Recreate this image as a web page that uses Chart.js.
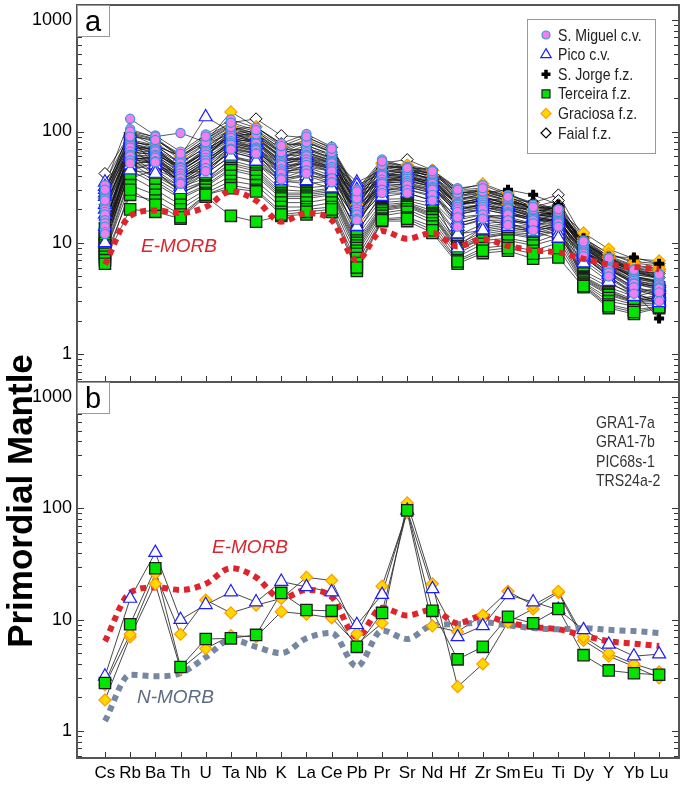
<!DOCTYPE html>
<html>
<head>
<meta charset="utf-8">
<script src="https://cdn.jsdelivr.net/npm/chart.js@4.4.1/dist/chart.umd.min.js"></script>
<style>
  body { margin: 0; background: #fff; width: 685px; height: 786px; position: relative; overflow: hidden; }
  canvas { position: absolute; left: 0; }
  #ca { top: 0; }
  #cb { top: 380px; }
  #ytitle {
    position: absolute; left: -180px; top: 481px; width: 400px; height: 40px; line-height: 40px;
    text-align: center; font: bold 35px 'Liberation Sans', Arial, sans-serif; color: #000;
    transform: rotate(-90deg); white-space: nowrap;
  }
</style>
</head>
<body>
<canvas id="ca" width="685" height="384"></canvas>
<canvas id="cb" width="685" height="406"></canvas>
<div id="ytitle">Primordial Mantle</div>
<script>
const elements = ['Cs','Rb','Ba','Th','U','Ta','Nb','K','La','Ce','Pb','Pr','Sr','Nd','Hf','Zr','Sm','Eu','Ti','Dy','Y','Yb','Lu']
const decadeTicks = [1, 10, 100, 1000]

// panel a: one row per sample, values in element order
const sMiguel = [
  [33, 130, 92, 66, 94, 128, 108, 78, 95, 73, 30, 56, 48, 45, 31, 33, 27, 22, 20, 10.5, 7.4, 5.8, 5.3],
  [28, 105, 88, 60, 85, 115, 100, 70, 85, 68, 28, 52, 46, 43, 29, 30, 26, 21, 20, 10.2, 7.2, 5.6, 5.1],
  [26, 98, 86, 58, 82, 112, 96, 68, 82, 66, 27, 50, 46, 42, 28, 29, 25, 20.5, 19.5, 10, 7.1, 5.5, 5.0],
  [25, 95, 80, 56, 78, 105, 92, 63, 75, 62, 26, 48, 44, 40, 27, 28, 24, 20, 19, 9.8, 7.0, 5.4, 4.9],
  [22, 85, 75, 52, 72, 100, 88, 58, 70, 58, 25, 45, 42, 38, 25, 26, 23, 19, 18, 9.5, 6.8, 5.2, 4.8],
  [20, 78, 70, 48, 68, 95, 82, 54, 65, 55, 23, 42, 40, 36, 23, 25, 21, 18, 18, 9.2, 6.5, 5.0, 4.6],
  [19, 75, 68, 47, 65, 92, 80, 52, 62, 53, 22.5, 41, 39, 35, 22.5, 24, 20.5, 17.5, 17.5, 9.1, 6.4, 4.9, 4.5],
  [18, 72, 66, 45, 62, 88, 78, 50, 60, 52, 22, 40, 38, 34, 22, 23, 20, 17, 17, 9.0, 6.3, 4.8, 4.4],
  [16, 66, 62, 42, 58, 82, 72, 46, 56, 48, 20, 37, 36, 32, 21, 22, 19, 16.5, 16, 8.6, 6.0, 4.6, 4.2],
  [15, 62, 60, 40, 55, 79, 70, 44, 53, 46, 19, 35, 34.5, 31, 20, 21, 18.5, 16, 16, 8.4, 5.8, 4.4, 4.0],
  [14, 60, 58, 38, 52, 76, 68, 42, 50, 44, 18, 34, 33, 30, 19, 20, 18, 16, 15.5, 8.3, 5.7, 4.3, 3.9],
  [12.5, 55, 54, 35, 47, 70, 64, 38, 45, 38, 16.5, 30, 30, 27, 17, 18, 16, 15, 15, 8.0, 5.4, 4.0, 3.6],
  [12, 52, 53, 34, 44, 69, 63, 37, 42, 35, 16, 28, 28, 24, 14, 16.5, 14.5, 13, 14, 7.6, 5.0, 3.5, 3.0],
  [30, 100, 90, 97, 80, 110, 95, 65, 80, 65, 25, 50, 45, 42, 28, 29, 25, 20, 19, 9.9, 7.1, 5.5, 5.0],
  [24, 90, 84, 63, 90, 120, 103, 74, 90, 70, 29, 54, 47, 44, 30, 31, 26, 21, 20, 10.3, 7.3, 5.7, 5.2]
]
const pico = [
  [35, 95, 75, 60, 135, 100, 90, 65, 70, 58, 35, 45, 45, 40, 24, 26, 22, 19, 18, 9.5, 6.8, 5.0, 4.5],
  [32, 85, 70, 52, 78, 95, 88, 60, 62, 52, 33, 42, 43, 37, 22, 24, 21, 18, 17, 9.0, 6.5, 4.8, 4.3],
  [30, 80, 66, 48, 70, 90, 82, 55, 58, 48, 30, 38, 40, 35, 20, 22, 20, 17, 16, 8.6, 6.2, 4.6, 4.1],
  [28, 76, 63, 46, 66, 87, 79, 52, 55, 46, 28, 36, 38, 33, 19, 21, 19, 16.5, 15.5, 8.4, 6.0, 4.4, 4.0],
  [26, 72, 60, 44, 62, 84, 76, 50, 52, 44, 26, 35, 37, 32, 18, 20, 18, 16, 15, 8.2, 5.8, 4.3, 3.8],
  [22, 64, 55, 40, 56, 78, 70, 46, 48, 40, 22, 32, 34, 30, 16, 18, 17, 15, 14, 7.8, 5.5, 4.0, 3.5],
  [20, 60, 52, 38, 53, 75, 67, 44, 46, 38, 20, 31, 33, 29, 15, 17, 16.5, 14.5, 13.5, 7.6, 5.3, 3.9, 3.4],
  [18, 58, 50, 36, 50, 72, 64, 42, 44, 37, 19, 30, 32, 28, 14, 16, 16, 14, 13, 7.4, 5.2, 3.8, 3.3],
  [14, 50, 45, 32, 45, 65, 58, 38, 40, 34, 16, 28, 30, 26, 9, 14, 15, 13, 12, 7.0, 4.8, 3.5, 3.0],
  [10, 45, 42, 30, 42, 60, 54, 36, 36, 31, 14, 26, 28, 24, 12, 13, 14, 12.5, 11, 6.6, 4.5, 3.3, 2.9]
]
const sJorge = [
  [15, 70, 70, 45, 60, 95, 85, 60, 70, 62, 20, 48, 48, 45, 26, 28, 30, 27, 22, 11, 7.5, 7.4, 6.5],
  [12, 55, 60, 38, 50, 80, 72, 50, 58, 52, 17, 40, 42, 38, 22, 24, 25, 23, 20, 9.5, 6.5, 5.5, 4.8],
  [11, 50, 56, 35, 46, 74, 66, 46, 53, 48, 15.5, 37, 39, 35, 20, 22, 23, 21.5, 19, 9.0, 6.2, 5.0, 4.4],
  [10, 45, 52, 32, 42, 68, 60, 42, 48, 44, 14, 34, 36, 32, 18, 20, 21, 20, 18, 8.5, 5.8, 4.5, 4.0],
  [8, 38, 45, 28, 36, 58, 52, 36, 40, 38, 12, 29, 32, 28, 15, 17, 18, 17, 16, 7.5, 5.0, 3.6, 2.1]
]
const terceira = [
  [13.5, 87, 50, 41, 45, 66, 57, 36, 34, 36, 12.8, 24.6, 25, 22.7, 11.6, 14.8, 15.7, 15, 19, 5.6, 4.3, 3.5, 4.0],
  [12, 75, 46, 36, 42, 60, 52, 33, 31, 33, 11.5, 23, 24, 21, 10.5, 13.5, 14.5, 14, 17, 5.3, 4.0, 3.3, 3.7],
  [11, 62, 42, 32, 38, 55, 48, 30, 29, 31, 10.5, 22, 23, 19.5, 9.8, 12.5, 13.5, 13, 15.5, 5.0, 3.8, 3.1, 3.4],
  [10.5, 58, 40, 30, 36, 52, 46, 28, 28, 30, 10, 21, 22.5, 18.5, 9.3, 12, 13, 12.5, 14.5, 4.9, 3.7, 3.0, 3.3],
  [10, 52, 38, 28, 35, 50, 44, 27, 27, 29, 9.5, 20.5, 22, 18, 9.0, 11.5, 12.5, 12, 14, 4.8, 3.6, 3.0, 3.2],
  [9.5, 48, 36, 26, 33, 47, 42, 26, 26, 28, 9, 20, 21.5, 17.5, 8.7, 11.2, 12.2, 11.5, 13.5, 4.7, 3.5, 2.95, 3.1],
  [9, 45, 34, 25, 32, 45, 40, 25, 25, 27, 8.5, 19.5, 21, 17, 8.5, 11, 12, 11, 13, 4.6, 3.4, 2.9, 3.0],
  [8.5, 40, 30, 22, 30, 40, 36, 23, 23, 25, 8, 18.5, 20, 16, 8.0, 10.5, 11, 10, 12, 4.4, 3.2, 2.8, 2.9],
  [8, 33, 27, 20, 28, 36, 33, 21, 21, 23, 7.3, 17.5, 19, 15, 7.5, 9.8, 10.5, 9.5, 11, 4.3, 3.0, 2.7, 2.8],
  [7.5, 27, 24, 18, 27, 33, 30, 19, 20, 21, 6.6, 16.5, 17, 14, 7.0, 9.0, 9.5, 8.5, 10, 4.2, 2.8, 2.5, 2.7],
  [7, 20, 19, 16.5, 26, 17.5, 15.5, 17.5, 18, 19, 5.6, 15.7, 15.7, 12.3, 6.5, 8.1, 8.5, 7.2, 7.4, 4.0, 2.6, 2.3, 2.6],
  [6.5, 30, 22, 17, 27, 31, 29, 18, 19, 20, 6.0, 16, 16.5, 13, 6.8, 8.5, 9, 8, 9, 4.1, 2.7, 2.4, 2.65]
]
const graciosa = [
  [20, 80, 75, 60, 80, 150, 110, 75, 80, 65, 22, 52, 50, 45, 30, 34, 28, 22, 20, 12.3, 8.8, 7.2, 6.9],
  [15, 65, 62, 48, 65, 110, 90, 60, 65, 55, 18, 44, 44, 40, 26, 30, 25, 20, 18, 11, 8.0, 6.6, 6.2],
  [13, 58, 56, 42, 58, 98, 80, 54, 58, 50, 16, 40, 41, 37, 24, 28, 24, 19, 17.5, 10.5, 7.6, 6.3, 5.9],
  [11, 50, 50, 36, 50, 85, 72, 48, 52, 46, 14, 36, 38, 34, 22, 26, 22, 18, 17, 10, 7.3, 6.0, 5.6]
]
const faial = [
  [42, 95, 85, 60, 85, 120, 130, 92, 88, 72, 28, 52, 56, 45, 28, 30, 27, 23, 27, 11, 8.0, 6.8, 6.5],
  [30, 80, 75, 52, 72, 105, 110, 78, 75, 62, 24, 46, 50, 40, 25, 27, 24, 21, 24, 10, 7.4, 6.2, 5.8],
  [25, 74, 70, 48, 66, 98, 100, 70, 68, 57, 22, 43, 47, 38, 23, 25, 23, 20, 22, 9.6, 7.0, 5.9, 5.5],
  [22, 68, 65, 44, 62, 92, 95, 66, 64, 54, 20, 40, 45, 36, 22, 24, 22, 19, 21, 9.2, 6.8, 5.6, 5.3],
  [16, 58, 56, 38, 54, 82, 84, 58, 56, 48, 18, 36, 40, 32, 20, 22, 20, 17.5, 19, 8.5, 6.3, 5.2, 4.9]
]

// reference curves
const eMorb = [6.4, 17.5, 19.5, 18.5, 21, 29, 24, 15.5, 18.5, 16, 7.0, 12.8, 10.9, 12.3, 9.3, 10.8, 9.4, 8.6, 8.2, 7.2, 6.4, 6.1, 5.8]
const nMorb = [1.23, 3.2, 3.1, 3.3, 4.6, 6.6, 5.7, 5.0, 6.8, 7.6, 3.8, 8.0, 6.7, 8.9, 9.1, 9.5, 8.9, 8.4, 8.2, 8.4, 8.1, 7.9, 7.6]

// panel b samples
const gra17a = [1.9, 7.0, 21, 3.6, 5.5, 7.2, 7.0, 11.8, 11.2, 10.4, 6.0, 9.3, 112, 21, 2.5, 4.0, 9.5, 12.5, 17.5, 6.5, 4.7, 3.8, 3.0]
const gra17b = [2.6, 7.4, 26, 7.4, 15, 11.5, 13.5, 15.5, 24, 22.5, 7.5, 20, 92, 8.8, 7.8, 11, 18, 13.5, 18, 7.0, 5.0, 4.0, 3.4]
const pic68s1 = [3.1, 15.5, 40, 10, 13.6, 17.7, 14.4, 22, 19.7, 17.7, 9.0, 16.8, 96, 18.9, 7.0, 8.8, 16.7, 14.4, 12.3, 8.1, 6.0, 4.7, 4.9]
const trs24a2 = [2.7, 9.1, 29, 3.76, 6.7, 6.8, 7.3, 17.4, 12.2, 12.0, 5.7, 11.5, 96, 12.0, 4.4, 5.7, 10.6, 9.3, 12.5, 4.8, 3.5, 3.3, 3.2]
const sampleLabels = ['GRA1-7a', 'GRA1-7b', 'PIC68s-1', 'TRS24a-2']

const FONT = "'Liberation Sans', Arial, sans-serif"

const styles = {
  sMiguel:  { pointStyle: 'circle',   radius: 4.6, bg: '#f27ff0', border: '#3d95d8', bw: 1.2 },
  pico:     { pointStyle: 'triangle', radius: 7.5, bg: '#ffffff', border: '#1c1cff', bw: 1.2 },
  sJorge:   { pointStyle: 'cross',    radius: 5,   bg: '#000000', border: '#000000', bw: 4 },
  terceira: { pointStyle: 'rect',     radius: 8,   bg: '#00e400', border: '#1e1e1e', bw: 1.3 },
  graciosa: { pointStyle: 'rectRot',  radius: 6,   bg: '#ffd800', border: '#ff9a00', bw: 1.2 },
  faial:    { pointStyle: 'rectRot',  radius: 6,   bg: '#ffffff', border: '#000000', bw: 1 }
}

const toPoints = vals => vals.map((v, i) => ({ x: i, y: v }))

function sampleLine(vals, color, width, order) {
  return { type: 'line', data: toPoints(vals), showLine: true, borderColor: color, borderWidth: width,
           pointRadius: 0, tension: 0, order }
}

function markers(samples, st, order) {
  return {
    type: 'scatter', data: samples.flatMap(toPoints), showLine: false,
    pointStyle: st.pointStyle, pointRadius: st.radius, pointBackgroundColor: st.bg,
    pointBorderColor: st.border, pointBorderWidth: st.bw, order
  }
}

function curve(vals, color, order) {
  return { type: 'line', data: toPoints(vals), borderColor: color, borderWidth: 6, borderDash: [6, 5],
           borderCapStyle: 'butt', pointRadius: 0, cubicInterpolationMode: 'monotone', order }
}

const isNice = v => {
  const m = v / Math.pow(10, Math.floor(Math.log10(v) + 1e-9))
  return Math.abs(m - Math.round(m)) < 1e-6
}
const isDecade = v => decadeTicks.some(d => Math.abs(d - v) < 1e-6)

// narrow text, like the legend font of the original
function narrowText(ctx, text, x, y) {
  ctx.save()
  ctx.translate(x, y)
  ctx.scale(0.83, 1)
  ctx.fillText(text, 0, 0)
  ctx.restore()
}

// frame, inward ticks and the panel letter
const framePlugin = {
  id: 'frame',
  afterDraw(chart, args, opts) {
    const { ctx, chartArea: a, scales } = chart
    ctx.save()
    ctx.strokeStyle = '#333'
    ctx.lineWidth = 1
    ctx.beginPath()
    scales.y.ticks.forEach(t => {
      if (!isNice(t.value)) return
      const y = Math.round(scales.y.getPixelForValue(t.value)) + 0.5
      if (y < a.top + 1 || y > a.bottom - 1) return
      const len = isDecade(t.value) ? 7 : 5
      ctx.moveTo(a.left, y); ctx.lineTo(a.left + len, y)
      ctx.moveTo(a.right, y); ctx.lineTo(a.right - len, y)
    })
    elements.forEach((e, i) => {
      const x = Math.round(scales.x.getPixelForValue(i)) + 0.5
      ctx.moveTo(x, a.bottom); ctx.lineTo(x, a.bottom - 6)
    })
    ctx.stroke()
    ctx.strokeStyle = '#555'
    ctx.lineWidth = 2
    ctx.strokeRect(a.left, a.top, a.right - a.left, a.bottom - a.top)
    // panel letter box
    ctx.fillStyle = '#fff'
    ctx.fillRect(a.left + 1, a.top + 1, 32, 31)
    ctx.strokeStyle = '#999'
    ctx.lineWidth = 1
    ctx.strokeRect(a.left + 0.5, a.top + 0.5, 32, 31)
    ctx.fillStyle = '#000'
    ctx.font = '29px ' + FONT
    ctx.textAlign = 'center'
    ctx.textBaseline = 'alphabetic'
    ctx.fillText(opts.letter, a.left + 16, a.top + 26)
    ctx.restore()
  }
}

// italic curve names, placed in data units
const curveLabels = {
  id: 'curveLabels',
  afterDatasetsDraw(chart, args, opts) {
    const { ctx, scales } = chart
    ctx.save()
    ctx.font = 'italic 19px ' + FONT
    ctx.textAlign = 'center'
    ctx.textBaseline = 'middle'
    opts.items.forEach(it => {
      ctx.fillStyle = it.color
      ctx.fillText(it.text, scales.x.getPixelForValue(it.x), scales.y.getPixelForValue(it.y))
    })
    ctx.restore()
  }
}

function drawSymbol(ctx, st, x, y, r) {
  ctx.save()
  ctx.fillStyle = st.bg
  ctx.strokeStyle = st.border
  ctx.lineWidth = st.pointStyle === 'cross' ? 3.5 : 1.2
  ctx.beginPath()
  if (st.pointStyle === 'circle') ctx.arc(x, y, r, 0, Math.PI * 2)
  else if (st.pointStyle === 'triangle') { ctx.moveTo(x, y - r); ctx.lineTo(x + r * 0.87, y + r * 0.5); ctx.lineTo(x - r * 0.87, y + r * 0.5); ctx.closePath() }
  else if (st.pointStyle === 'rect') ctx.rect(x - r, y - r, 2 * r, 2 * r)
  else if (st.pointStyle === 'rectRot') { ctx.moveTo(x, y - r); ctx.lineTo(x + r, y); ctx.lineTo(x, y + r); ctx.lineTo(x - r, y); ctx.closePath() }
  else if (st.pointStyle === 'cross') { ctx.moveTo(x - r, y); ctx.lineTo(x + r, y); ctx.moveTo(x, y - r); ctx.lineTo(x, y + r) }
  if (st.pointStyle !== 'cross') ctx.fill()
  ctx.stroke()
  ctx.restore()
}

const legendItems = [
  ['S. Miguel c.v.', styles.sMiguel, 4],
  ['Pico c.v.', styles.pico, 6],
  ['S. Jorge f.z.', styles.sJorge, 4.5],
  ['Terceira f.z.', styles.terceira, 4],
  ['Graciosa f.z.', styles.graciosa, 5],
  ['Faial f.z.', styles.faial, 5]
]

const boxLegend = {
  id: 'boxLegend',
  afterDraw(chart) {
    const { ctx, chartArea: a } = chart
    const left = a.right - 152, top = a.top + 14
    ctx.save()
    ctx.fillStyle = '#fff'
    ctx.fillRect(left, top, 128, 134)
    ctx.strokeStyle = '#999'
    ctx.lineWidth = 1
    ctx.strokeRect(left + 0.5, top + 0.5, 128, 134)
    ctx.font = '17px ' + FONT
    ctx.textBaseline = 'middle'
    legendItems.forEach(([label, st, r], i) => {
      const y = top + 16 + i * 19.6
      drawSymbol(ctx, st, left + 19, y, r)
      ctx.fillStyle = '#222'
      narrowText(ctx, label, left + 31, y + 1)
    })
    ctx.restore()
  }
}

const sampleNames = {
  id: 'sampleNames',
  afterDraw(chart) {
    const { ctx, chartArea: a } = chart
    ctx.save()
    ctx.font = '17px ' + FONT
    ctx.fillStyle = '#333'
    ctx.textBaseline = 'middle'
    sampleLabels.forEach((s, i) => narrowText(ctx, s, a.right - 83, a.top + 41 + i * 19.5))
    ctx.restore()
  }
}

function zeroPad(s) { s.paddingTop = 0; s.paddingBottom = 0; s.paddingLeft = 0; s.paddingRight = 0 }

function options(yMin, yMax, showX, padding, extra) {
  return {
    responsive: false, animation: false, devicePixelRatio: 1,
    layout: { padding, autoPadding: false },
    plugins: Object.assign({ legend: { display: false }, tooltip: { enabled: false } }, extra),
    scales: {
      x: {
        type: 'linear', min: -1.11, max: 22.79, display: showX,
        grid: { display: false, drawTicks: false }, border: { display: false },
        afterBuildTicks: s => { s.ticks = elements.map((e, i) => ({ value: i })) },
        afterFit: s => { s.height = showX ? 28 : 0; zeroPad(s) },
        ticks: { autoSkip: false, maxRotation: 0, padding: 5, color: '#000', font: { size: 17, family: FONT },
                 callback: v => elements[v] }
      },
      y: {
        type: 'logarithmic', min: yMin, max: yMax,
        grid: { display: false, drawTicks: false }, border: { display: false },
        afterFit: s => { s.width = 77; zeroPad(s) },
        ticks: { autoSkip: false, padding: 5, color: '#000', font: { size: 18, family: FONT },
                 callback: v => isDecade(v) ? String(Math.round(v)) : '' }
      }
    }
  }
}

// ---- panel a
const groupsA = [sMiguel, pico, sJorge, terceira, graciosa, faial]
const datasetsA = []
groupsA.forEach(g => g.forEach(vals => datasetsA.push(sampleLine(vals, 'rgba(10,10,10,0.9)', 0.75, 100))))
datasetsA.push(markers(faial, styles.faial, 60))
datasetsA.push(markers(graciosa, styles.graciosa, 50))
datasetsA.push(markers(sJorge, styles.sJorge, 40))
datasetsA.push(markers(terceira, styles.terceira, 30))
datasetsA.push(markers(pico, styles.pico, 20))
datasetsA.push(markers(sMiguel, styles.sMiguel, 10))
datasetsA.push(curve(eMorb, '#e0242c', 0))

new Chart(document.getElementById('ca'), {
  type: 'scatter',
  data: { datasets: datasetsA },
  options: options(0.564, 1367, false, { top: 5, right: 6, bottom: 2, left: 0 }, {
    frame: { letter: 'a' },
    curveLabels: { items: [{ text: 'E-MORB', x: 2.94, y: 9.2, color: '#d8262e' }] }
  }),
  plugins: [framePlugin, curveLabels, boxLegend]
})

// ---- panel b
const datasetsB = []
;[gra17a, gra17b, pic68s1, trs24a2].forEach(vals => datasetsB.push(sampleLine(vals, '#333', 0.9, 100)))
datasetsB.push(curve(nMorb, '#7687a1', 80))
datasetsB.push(curve(eMorb, '#e0242c', 70))
datasetsB.push(markers([gra17a, gra17b], styles.graciosa, 40))
datasetsB.push(markers([pic68s1], styles.pico, 30))
datasetsB.push(markers([trs24a2], styles.terceira, 20))

new Chart(document.getElementById('cb'), {
  type: 'scatter',
  data: { datasets: datasetsB },
  options: options(0.572, 1365, true, { top: 2, right: 6, bottom: 0, left: 0 }, {
    frame: { letter: 'b' },
    curveLabels: { items: [
      { text: 'E-MORB', x: 5.76, y: 44, color: '#d8262e' },
      { text: 'N-MORB', x: 2.8, y: 1.98, color: '#5d6b82' }
    ] }
  }),
  plugins: [framePlugin, curveLabels, sampleNames]
})
</script>
</body>
</html>
